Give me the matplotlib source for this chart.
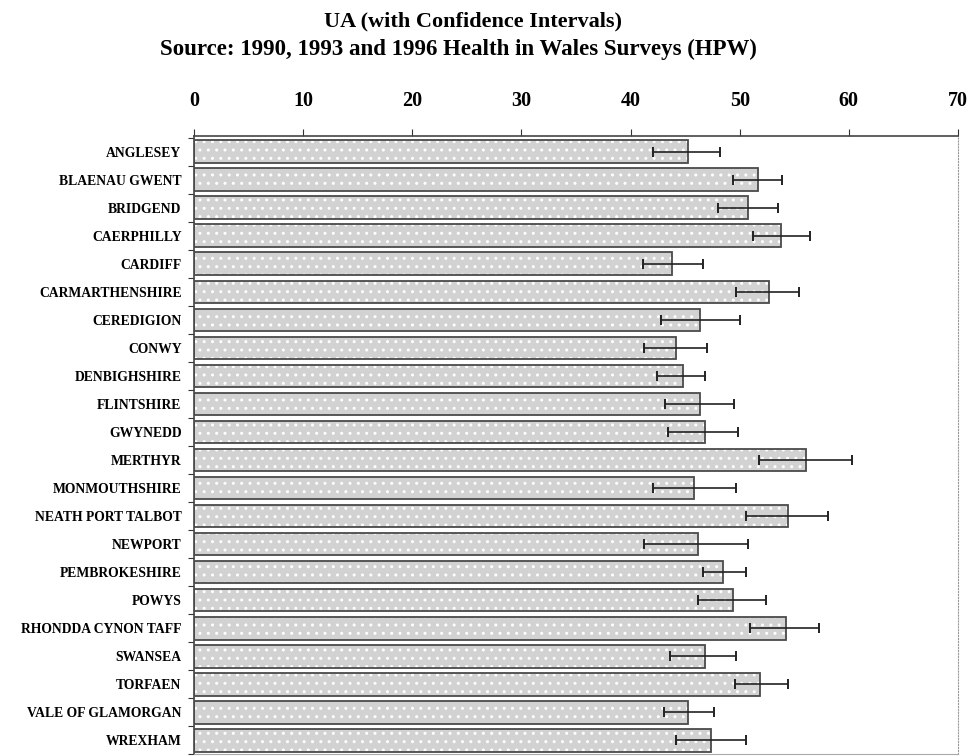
import matplotlib
matplotlib.use("Agg")
import matplotlib.pyplot as plt
import numpy as np

categories = ["ANGLESEY", "BLAENAU GWENT", "BRIDGEND", "CAERPHILLY", "CARDIFF",
              "CARMARTHENSHIRE", "CEREDIGION", "CONWY", "DENBIGHSHIRE", "FLINTSHIRE",
              "GWYNEDD", "MERTHYR", "MONMOUTHSHIRE", "NEATH PORT TALBOT", "NEWPORT",
              "PEMBROKESHIRE", "POWYS", "RHONDDA CYNON TAFF", "SWANSEA", "TORFAEN",
              "VALE OF GLAMORGAN", "WREXHAM"]
values = [45.3, 51.7, 50.8, 53.8, 43.8, 52.7, 46.4, 44.2, 44.8, 46.4, 46.8,
          56.1, 45.8, 54.4, 46.2, 48.5, 49.4, 54.2, 46.8, 51.9, 45.3, 47.4]
lower = [42.1, 49.4, 48.0, 51.2, 41.1, 49.7, 42.8, 41.2, 42.4, 43.2, 43.4,
         51.8, 42.1, 50.6, 41.2, 46.6, 46.2, 50.9, 43.6, 49.6, 43.1, 44.2]
upper = [48.2, 53.9, 53.5, 56.4, 46.6, 55.4, 50.0, 47.0, 46.8, 49.5, 49.8,
         60.3, 49.7, 58.1, 50.8, 50.6, 52.4, 57.3, 49.7, 54.4, 47.6, 50.6]
xticks = [0, 10, 20, 30, 40, 50, 60, 70]
title_lines = ["UA (with Confidence Intervals)",
               "Source: 1990, 1993 and 1996 Health in Wales Surveys (HPW)"]

serif = ["Liberation Serif", "DejaVu Serif"]

fig = plt.figure(figsize=(9.71, 7.56), dpi=100)
ax = fig.add_axes([0.1998, 0.0026, 0.7868, 0.8175])

y = np.arange(len(categories))
h = 0.82
ax.barh(y, values, height=h, color="#d2d2d2", edgecolor="none", zorder=1)
ax.barh(y, values, height=h, color="none", edgecolor="white", hatch="..",
        linewidth=0, zorder=2)
ax.barh(y, values, height=h, fill=False, edgecolor="#4a4a4a", linewidth=1.3, zorder=3)

v = np.array(values)
err = np.vstack([v - np.array(lower), np.array(upper) - v])
ax.errorbar(v, y, xerr=err, fmt="none", ecolor="#222222", elinewidth=1.2,
            capsize=3.5, capthick=1.4, zorder=4)

ax.set_xlim(0, 70)
ax.set_ylim(21.43, -0.57)
ax.xaxis.tick_top()
ax.set_xticks(xticks)
ax.set_xticklabels([str(t) for t in xticks], fontfamily=serif, fontsize=14.5,
                   fontweight="bold")
ax.tick_params(axis="x", direction="out", length=5, width=0.8, pad=13,
               color="#333333")
ax.set_yticks(y)
ax.set_yticklabels(categories, fontfamily=serif, fontsize=9.8, fontweight="bold")
ax.tick_params(axis="y", length=0, pad=9)
ax.set_yticks(np.arange(len(categories) + 1) - 0.5, minor=True)
ax.tick_params(axis="y", which="minor", direction="out", length=4, width=0.8,
               color="#333333")

for s in ["top", "left"]:
    ax.spines[s].set_color("#444444")
    ax.spines[s].set_linewidth(1.2)
ax.spines["right"].set_color("#999999")
ax.spines["right"].set_linestyle(":")
ax.spines["bottom"].set_color("#aaaaaa")

fig.text(0.487, 0.972, title_lines[0], ha="center", va="center",
         fontfamily=serif, fontsize=16, fontweight="bold")
fig.text(0.472, 0.935, title_lines[1], ha="center", va="center",
         fontfamily=serif, fontsize=16.5, fontweight="bold")

fig.savefig("out.png", dpi=100)
